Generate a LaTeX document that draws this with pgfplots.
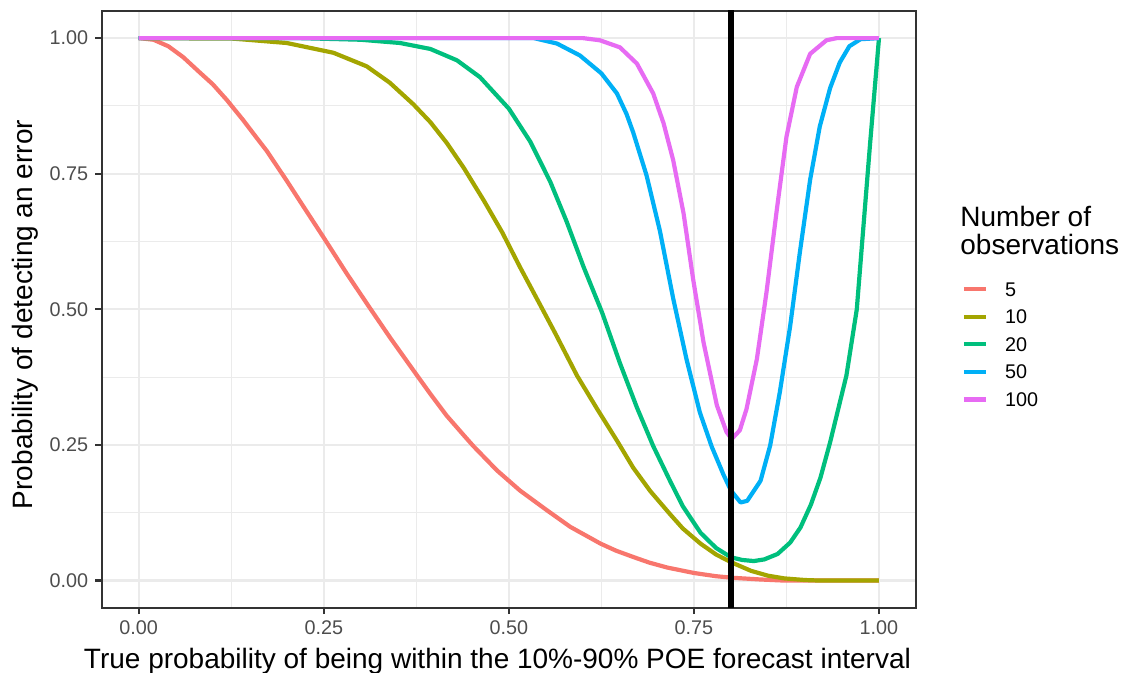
\documentclass[border=0pt]{standalone}
\usepackage{fontspec}
\setmainfont{Liberation Sans}
\usepackage{pgfplots}
\pgfplotsset{compat=1.18}
\definecolor{c5}{HTML}{F8766D}
\definecolor{c10}{HTML}{A3A500}
\definecolor{c20}{HTML}{00BF7D}
\definecolor{c50}{HTML}{00B0F6}
\definecolor{c100}{HTML}{E76BF3}
\definecolor{gridc}{HTML}{EBEBEB}
\definecolor{g20}{HTML}{333333}
\definecolor{g30}{HTML}{4D4D4D}
\begin{document}
\begin{tikzpicture}
\useasboundingbox (-50.85pt,-32.65pt) rectangle (511.15pt,303.85pt);
\begin{axis}[
  at={(0pt,0pt)}, anchor=south west,
  scale only axis, width=407.15pt, height=298.35pt,
  xmin=-0.05, xmax=1.05, ymin=-0.05, ymax=1.05,
  xtick={0,0.25,0.5,0.75,1}, ytick={0,0.25,0.5,0.75,1},
  xticklabels={0.00,0.25,0.50,0.75,1.00},
  yticklabels={0.00,0.25,0.50,0.75,1.00},
  minor xtick={0.125,0.375,0.625,0.875},
  minor ytick={0.125,0.375,0.625,0.875},
  grid=both,
  major grid style={draw=gridc, line width=1.1pt},
  minor grid style={draw=gridc, line width=0.55pt},
  axis line style={draw=g20, line width=1.1pt},
  tick align=outside, major tick length=3.2pt, minor tick length=0pt,
  major tick style={draw=g20, line width=1.1pt},
  xtick pos=bottom, ytick pos=left,
  ticklabel style={font=\fontsize{9.9}{11}\selectfont, text=g30},
  xlabel={True probability of being within the 10\%-90\% POE forecast interval},
  ylabel={Probability of detecting an error},
  label style={font=\fontsize{14}{16}\selectfont},
  xlabel style={at={(axis description cs:0.486,-0.1014)}, anchor=base},
  ylabel style={at={(axis description cs:-0.0844,0.4914)}, anchor=base, rotate=0},
  legend style={draw=none, fill=none, at={(axis description cs:1.0561,0.5458)}, anchor=north west,
    inner sep=0pt, outer sep=0pt, row sep=6.8pt, column sep=8.5pt,
    font=\fontsize{9.9}{11}\selectfont,
    nodes={inner sep=0pt, text height=7pt, text depth=0pt}},
  legend cell align=left,
  legend image code/.code={\draw[line width=2.1pt] (0pt,0pt) -- (11.15pt,0pt);},
  every axis plot/.append style={line width=2.1pt, line join=round},
]
\addplot[c5] table {
0 1.000
0.02 0.997
0.04 0.985
0.06 0.965
0.083 0.936
0.10 0.915
0.119 0.886
0.141 0.849
0.16 0.815
0.173 0.792
0.2 0.737
0.218 0.699
0.25 0.632
0.281 0.566
0.311 0.505
0.340 0.447
0.375 0.380
0.394 0.344
0.416 0.304
0.439 0.268
0.452 0.248
0.484 0.203
0.515 0.166
0.551 0.130
0.583 0.099
0.624 0.068
0.645 0.055
0.669 0.043
0.69 0.033
0.714 0.024
0.75 0.014
0.78 0.008
0.804 0.005
0.84 0.002
0.872 0.000
1.0 0.000
};
\addlegendentry{5}
\addplot[c10] table {
0 1
0.128 0.999
0.2 0.991
0.263 0.973
0.308 0.948
0.339 0.918
0.371 0.878
0.394 0.845
0.416 0.807
0.439 0.761
0.466 0.701
0.491 0.642
0.515 0.578
0.542 0.509
0.563 0.455
0.592 0.378
0.619 0.317
0.646 0.258
0.668 0.208
0.691 0.165
0.718 0.122
0.735 0.096
0.759 0.068
0.78 0.048
0.80 0.034
0.827 0.018
0.85 0.009
0.872 0.004
0.9 0.001
0.92 0.0
1.0 0.0
};
\addlegendentry{10}
\addplot[c20] table {
0 1
0.218 1.0
0.30 0.997
0.353 0.991
0.394 0.980
0.43 0.959
0.461 0.928
0.5 0.870
0.529 0.809
0.556 0.735
0.578 0.662
0.601 0.578
0.626 0.494
0.650 0.401
0.673 0.319
0.695 0.248
0.718 0.183
0.735 0.137
0.759 0.088
0.78 0.06
0.800 0.043
0.815 0.038
0.831 0.036
0.845 0.039
0.863 0.049
0.88 0.07
0.894 0.098
0.908 0.14
0.921 0.190
0.934 0.255
0.956 0.378
0.970 0.500
0.979 0.653
0.988 0.806
1.0 1.0
};
\addlegendentry{20}
\addplot[c50] table {
0 1
0.534 1.0
0.565 0.99
0.596 0.968
0.625 0.935
0.646 0.898
0.659 0.860
0.668 0.826
0.686 0.747
0.704 0.645
0.722 0.520
0.740 0.408
0.758 0.310
0.774 0.247
0.79 0.195
0.800 0.166
0.813 0.144
0.822 0.147
0.840 0.184
0.853 0.249
0.866 0.347
0.880 0.469
0.893 0.604
0.907 0.739
0.920 0.837
0.934 0.908
0.947 0.955
0.960 0.985
0.975 0.998
1.0 1.0
};
\addlegendentry{50}
\addplot[c100] table {
0 1
0.60 1.0
0.623 0.996
0.650 0.983
0.673 0.953
0.695 0.898
0.709 0.843
0.722 0.775
0.736 0.677
0.749 0.555
0.763 0.439
0.781 0.323
0.794 0.274
0.801 0.261
0.812 0.277
0.821 0.316
0.835 0.408
0.848 0.531
0.862 0.684
0.875 0.818
0.889 0.910
0.907 0.971
0.929 0.996
0.943 1.0
1.0 1.0
};
\addlegendentry{100}
\addplot[black, line width=3.3pt, forget plot] coordinates {(0.8,-0.1) (0.8,1.1)};
\end{axis}
\node[anchor=base west, inner sep=0pt, font=\fontsize{14}{16}\selectfont] at (429.15pt,190.5pt) {Number of};
\node[anchor=base west, inner sep=0pt, font=\fontsize{14}{16}\selectfont] at (429.15pt,176.35pt) {observations};
\end{tikzpicture}
\end{document}
